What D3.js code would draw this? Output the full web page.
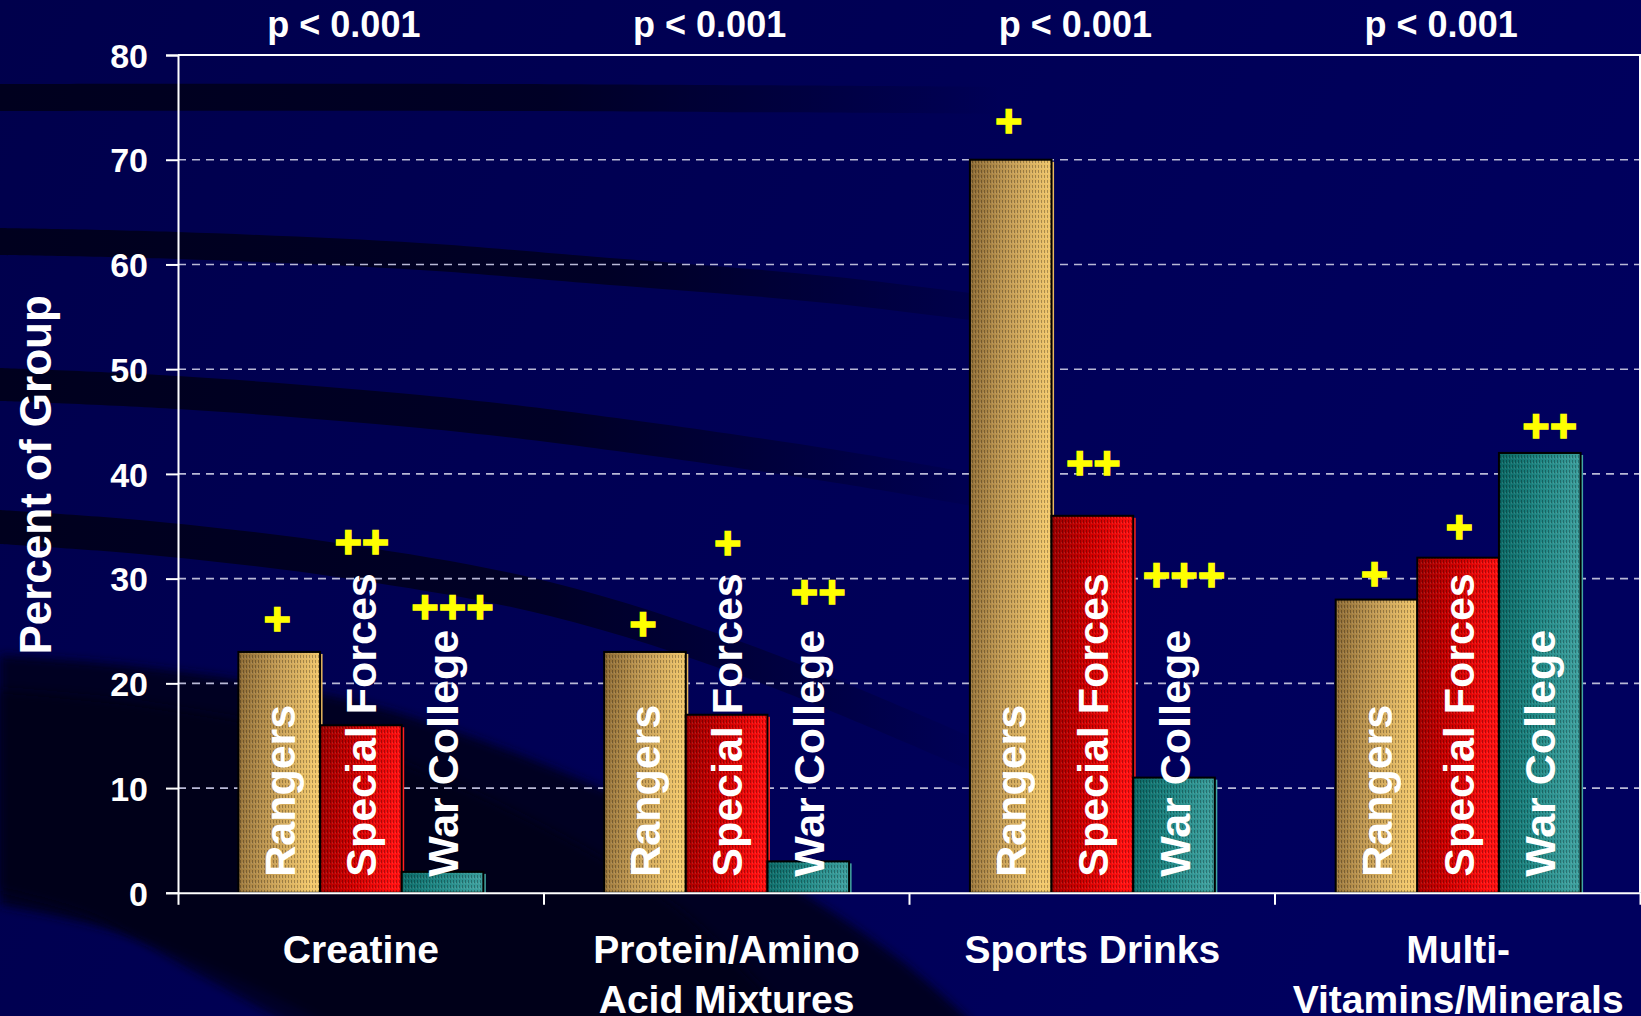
<!DOCTYPE html>
<html>
<head>
<meta charset="utf-8">
<script src="https://cdn.jsdelivr.net/npm/d3@7"></script>
<style>
  html, body { margin: 0; padding: 0; background: #000050; overflow: hidden; }
  svg { display: block; }
</style>
</head>
<body>
<svg id="chart" width="1641" height="1016"></svg>
<script>
// ---- data ----
const categories = ["Creatine", "Protein/Amino Acid Mixtures", "Sports Drinks", "Multi-Vitamins/Minerals"];
const categoryLines = [["Creatine"], ["Protein/Amino", "Acid Mixtures"], ["Sports Drinks"], ["Multi-", "Vitamins/Minerals"]];
const groups = ["Rangers", "Special Forces", "War College"];

const rangers       = [23, 23, 70, 28];
const specialForces = [16, 17, 36, 32];
const warCollege    = [2, 3, 11, 42];

// significance markers and the level (percent) each one sits at
const rangersMarks       = ["+", "+", "+", "+"];
const specialForcesMarks = ["++", "+", "++", "+"];
const warCollegeMarks    = ["+++", "++", "+++", "++"];
const rangersMarkLevel       = [26.2, 25.7, 73.7, 30.5];
const specialForcesMarkLevel = [33.5, 33.4, 41.1, 35.0];
const warCollegeMarkLevel    = [27.3, 28.8, 30.4, 44.6];

const pValues = ["p < 0.001", "p < 0.001", "p < 0.001", "p < 0.001"];
const yTicks = [0, 10, 20, 30, 40, 50, 60, 70, 80];
const yTitle = "Percent of Group";

// ---- setup ----
const W = 1641, H = 1016;
const FONT = "'Liberation Sans', Arial, Helvetica, sans-serif";
const svg = d3.select("#chart");
const defs = svg.append("defs");

const plot = { left: 178, right: 1641, top: 55, bottom: 892.8 };

const x0 = d3.scaleBand().domain(categories).range([plot.left, plot.right]).padding(0);
const x1 = d3.scaleBand().domain(groups).range([0, x0.bandwidth()]).paddingInner(0).paddingOuter(0.74);
const y = d3.scaleLinear().domain([0, 80]).range([plot.bottom, plot.top]);

// ---- background with dark sweeping bands ----
const bgGrad = defs.append("linearGradient").attr("id", "bgGrad")
  .attr("x1", 0).attr("y1", 0).attr("x2", 1).attr("y2", 0.3);
bgGrad.append("stop").attr("offset", 0).attr("stop-color", "#00004c");
bgGrad.append("stop").attr("offset", 1).attr("stop-color", "#00005e");
svg.append("rect").attr("width", W).attr("height", H).attr("fill", "url(#bgGrad)");

function fadeGradient(id, xStart, xEnd, color) {
  const g = defs.append("linearGradient").attr("id", id)
    .attr("gradientUnits", "userSpaceOnUse")
    .attr("x1", xStart).attr("y1", 0).attr("x2", xEnd).attr("y2", 0);
  g.append("stop").attr("offset", 0).attr("stop-color", color).attr("stop-opacity", 1);
  g.append("stop").attr("offset", 0.55).attr("stop-color", color).attr("stop-opacity", 0.85);
  g.append("stop").attr("offset", 1).attr("stop-color", color).attr("stop-opacity", 0);
}

const curve = d3.line().curve(d3.curveCatmullRom.alpha(0.5));
function bandPath(top, thick) {
  const bottom = top.map(([px, py]) => [px, py + thick]).reverse();
  return curve(top) + "L" + curve(bottom).slice(1) + "Z";
}

const bandColor = "#00001e";
const bands = [
  { top: [[0, 84], [500, 84], [1000, 87]], thick: 27, fadeEnd: 1000 },
  { top: [[0, 228], [178, 232], [420, 243], [586, 256], [837, 277], [1060, 305]], thick: 27, fadeEnd: 1100 },
  { top: [[0, 368], [178, 376], [420, 395], [586, 414], [837, 450], [1000, 478]], thick: 33, fadeEnd: 1020 },
  { top: [[0, 510], [150, 521], [350, 545], [550, 582], [750, 645], [967, 735]], thick: 34, fadeEnd: 1000 }
];
bands.forEach((b, i) => {
  fadeGradient("bandFade" + i, 0, b.fadeEnd, bandColor);
  svg.append("path").attr("d", bandPath(b.top, b.thick)).attr("fill", `url(#bandFade${i})`);
});

// large lower sweep
const sweepBlur = defs.append("filter").attr("id", "soft").attr("x", "-10%").attr("y", "-10%").attr("width", "120%").attr("height", "120%");
sweepBlur.append("feGaussianBlur").attr("stdDeviation", 5);
const sweepTop = [[0, 655], [150, 668], [350, 700], [550, 767], [750, 862], [900, 960], [980, 1030]];
const sweepBottom = [[340, 1030], [250, 985], [120, 932], [0, 905]];
svg.append("path")
  .attr("d", curve(sweepTop) + "L" + curve(sweepBottom).slice(1) + "Z")
  .attr("fill", "#000020").attr("filter", "url(#soft)");
const coreTop = [[0, 690], [150, 705], [350, 745], [520, 815], [680, 910], [800, 1030]];
const coreBottom = [[300, 1030], [200, 975], [90, 915], [0, 890]];
svg.append("path")
  .attr("d", curve(coreTop) + "L" + curve(coreBottom).slice(1) + "Z")
  .attr("fill", "#000012").attr("opacity", 0.7).attr("filter", "url(#soft)");

// ---- gridlines ----
svg.append("g").selectAll("line")
  .data(yTicks.filter(t => t > 0 && t < 80))
  .join("line")
  .attr("x1", plot.left).attr("x2", plot.right)
  .attr("y1", d => y(d)).attr("y2", d => y(d))
  .attr("stroke", "#b8b8d6").attr("stroke-width", 1.6)
  .attr("stroke-dasharray", "8,6");

// ---- bar fills ----
const palettes = {
  "Rangers":        { dark: "#8c6a34", mid: "#c59d55", light: "#f2c86c", side: "#e8b860" },
  "Special Forces": { dark: "#9a0000", mid: "#d00000", light: "#ff1010", side: "#ff2020" },
  "War College":    { dark: "#0b6764", mid: "#1f8683", light: "#3c9e9c", side: "#43a6a4" }
};
groups.forEach((g, i) => {
  const p = palettes[g];
  const lg = defs.append("linearGradient").attr("id", "barGrad" + i)
    .attr("x1", 0).attr("y1", 0).attr("x2", 1).attr("y2", 0.15);
  lg.append("stop").attr("offset", 0).attr("stop-color", p.dark);
  lg.append("stop").attr("offset", 0.5).attr("stop-color", p.mid);
  lg.append("stop").attr("offset", 1).attr("stop-color", p.light);
});
// fine woven texture laid over the bars
const tex = defs.append("pattern").attr("id", "weave")
  .attr("patternUnits", "userSpaceOnUse").attr("width", 3).attr("height", 5);
tex.append("rect").attr("x", 0).attr("y", 0).attr("width", 1).attr("height", 3).attr("fill", "#000").attr("opacity", 0.28);
tex.append("rect").attr("x", 2).attr("y", 2).attr("width", 1).attr("height", 2).attr("fill", "#fff").attr("opacity", 0.10);

const series = [
  { name: "Rangers", values: rangers, marks: rangersMarks, levels: rangersMarkLevel, markShift: -2 },
  { name: "Special Forces", values: specialForces, marks: specialForcesMarks, levels: specialForcesMarkLevel, markShift: 1 },
  { name: "War College", values: warCollege, marks: warCollegeMarks, levels: warCollegeMarkLevel, markShift: 10 }
];

const barRows = [];
categories.forEach((c, ci) => {
  series.forEach((s, si) => {
    barRows.push({ cat: c, ci, group: s.name, si, value: s.values[ci], mark: s.marks[ci], level: s.levels[ci], markShift: s.markShift });
  });
});

const barsG = svg.append("g");
barRows.forEach(d => {
  const bx = x0(d.cat) + x1(d.group);
  const bw = x1.bandwidth();
  const top = y(d.value);
  const hgt = y(0) - top;
  // narrow side face to the right of each bar
  barsG.append("rect")
    .attr("x", bx + bw).attr("y", top + 2).attr("width", 2.5).attr("height", hgt - 2)
    .attr("fill", palettes[d.group].side);
  barsG.append("rect")
    .attr("x", bx).attr("y", top).attr("width", bw).attr("height", hgt)
    .attr("fill", `url(#barGrad${d.si})`);
  barsG.append("rect")
    .attr("x", bx).attr("y", top).attr("width", bw).attr("height", hgt)
    .attr("fill", "url(#weave)");
  barsG.append("rect")
    .attr("x", bx).attr("y", top).attr("width", bw).attr("height", hgt)
    .attr("fill", "none").attr("stroke", "#000").attr("stroke-width", 2);
});

// ---- vertical group names on the bars ----
svg.append("g").selectAll("text")
  .data(barRows)
  .join("text")
  .attr("transform", d => `translate(${x0(d.cat) + x1(d.group) + x1.bandwidth() / 2},${y(0) - 16}) rotate(-90)`)
  .attr("dy", "0.36em")
  .attr("text-anchor", "start")
  .attr("fill", "#ffffff")
  .style("font-family", FONT).style("font-weight", "bold").style("font-size", "43px")
  .text(d => d.group);

// ---- significance markers ----
svg.append("g").selectAll("text")
  .data(barRows)
  .join("text")
  .attr("x", d => x0(d.cat) + x1(d.group) + x1.bandwidth() / 2 + d.markShift)
  .attr("y", d => y(d.level))
  .attr("dy", "0.35em")
  .attr("text-anchor", "middle")
  .attr("fill", "#ffff00").attr("stroke", "#ffff00").attr("stroke-width", 1.4)
  .style("font-family", FONT).style("font-weight", "bold").style("font-size", "47px")
  .text(d => d.mark);

// ---- frame: top and right borders ----
svg.append("line").attr("x1", plot.left).attr("x2", plot.right)
  .attr("y1", y(80)).attr("y2", y(80)).attr("stroke", "#fff").attr("stroke-width", 2);
svg.append("line").attr("x1", plot.right - 1).attr("x2", plot.right - 1)
  .attr("y1", y(80)).attr("y2", y(0)).attr("stroke", "#fff").attr("stroke-width", 2);

// ---- axes ----
const yAxis = svg.append("g")
  .attr("transform", `translate(${plot.left},0)`)
  .call(d3.axisLeft(y).tickValues(yTicks).tickSize(12).tickPadding(18).tickFormat(d3.format("d")));
yAxis.select(".domain").attr("stroke", "#fff").attr("stroke-width", 2);
yAxis.selectAll(".tick line").attr("stroke", "#fff").attr("stroke-width", 2);
yAxis.selectAll(".tick text")
  .attr("fill", "#fff").attr("dy", "0.36em")
  .style("font-family", FONT).style("font-weight", "bold").style("font-size", "34px");

const xEdge = d3.scaleLinear().domain([0, categories.length]).range([plot.left, plot.right - 1]);
const xAxis = svg.append("g")
  .attr("transform", `translate(0,${y(0)})`)
  .call(d3.axisBottom(xEdge).tickValues(d3.range(categories.length + 1)).tickSize(12).tickSizeOuter(0).tickFormat(""));
xAxis.select(".domain").attr("stroke", "#fff").attr("stroke-width", 2);
xAxis.selectAll(".tick line").attr("stroke", "#fff").attr("stroke-width", 2);

// ---- category names ----
const catG = svg.append("g");
categories.forEach((c, ci) => {
  const t = catG.append("text")
    .attr("x", x0(c) + x0.bandwidth() / 2)
    .attr("y", 963)
    .attr("text-anchor", "middle")
    .attr("fill", "#fff")
    .style("font-family", FONT).style("font-weight", "bold").style("font-size", "39px");
  categoryLines[ci].forEach((line, li) => {
    t.append("tspan").attr("x", x0(c) + x0.bandwidth() / 2).attr("dy", li === 0 ? 0 : 50).text(line);
  });
});

// ---- p-values above each group ----
svg.append("g").selectAll("text")
  .data(categories)
  .join("text")
  .attr("x", d => x0(d) + x0.bandwidth() / 2 - 17)
  .attr("y", 37)
  .attr("text-anchor", "middle")
  .attr("fill", "#fff")
  .style("font-family", FONT).style("font-weight", "bold").style("font-size", "36px")
  .text((d, i) => pValues[i]);

// ---- y axis title ----
svg.append("text")
  .attr("transform", `translate(50.5,${(y(0) + y(80)) / 2 + 1}) rotate(-90)`)
  .attr("text-anchor", "middle")
  .attr("fill", "#fff")
  .style("font-family", FONT).style("font-weight", "bold").style("font-size", "44px")
  .text(yTitle);
</script>
</body>
</html>
